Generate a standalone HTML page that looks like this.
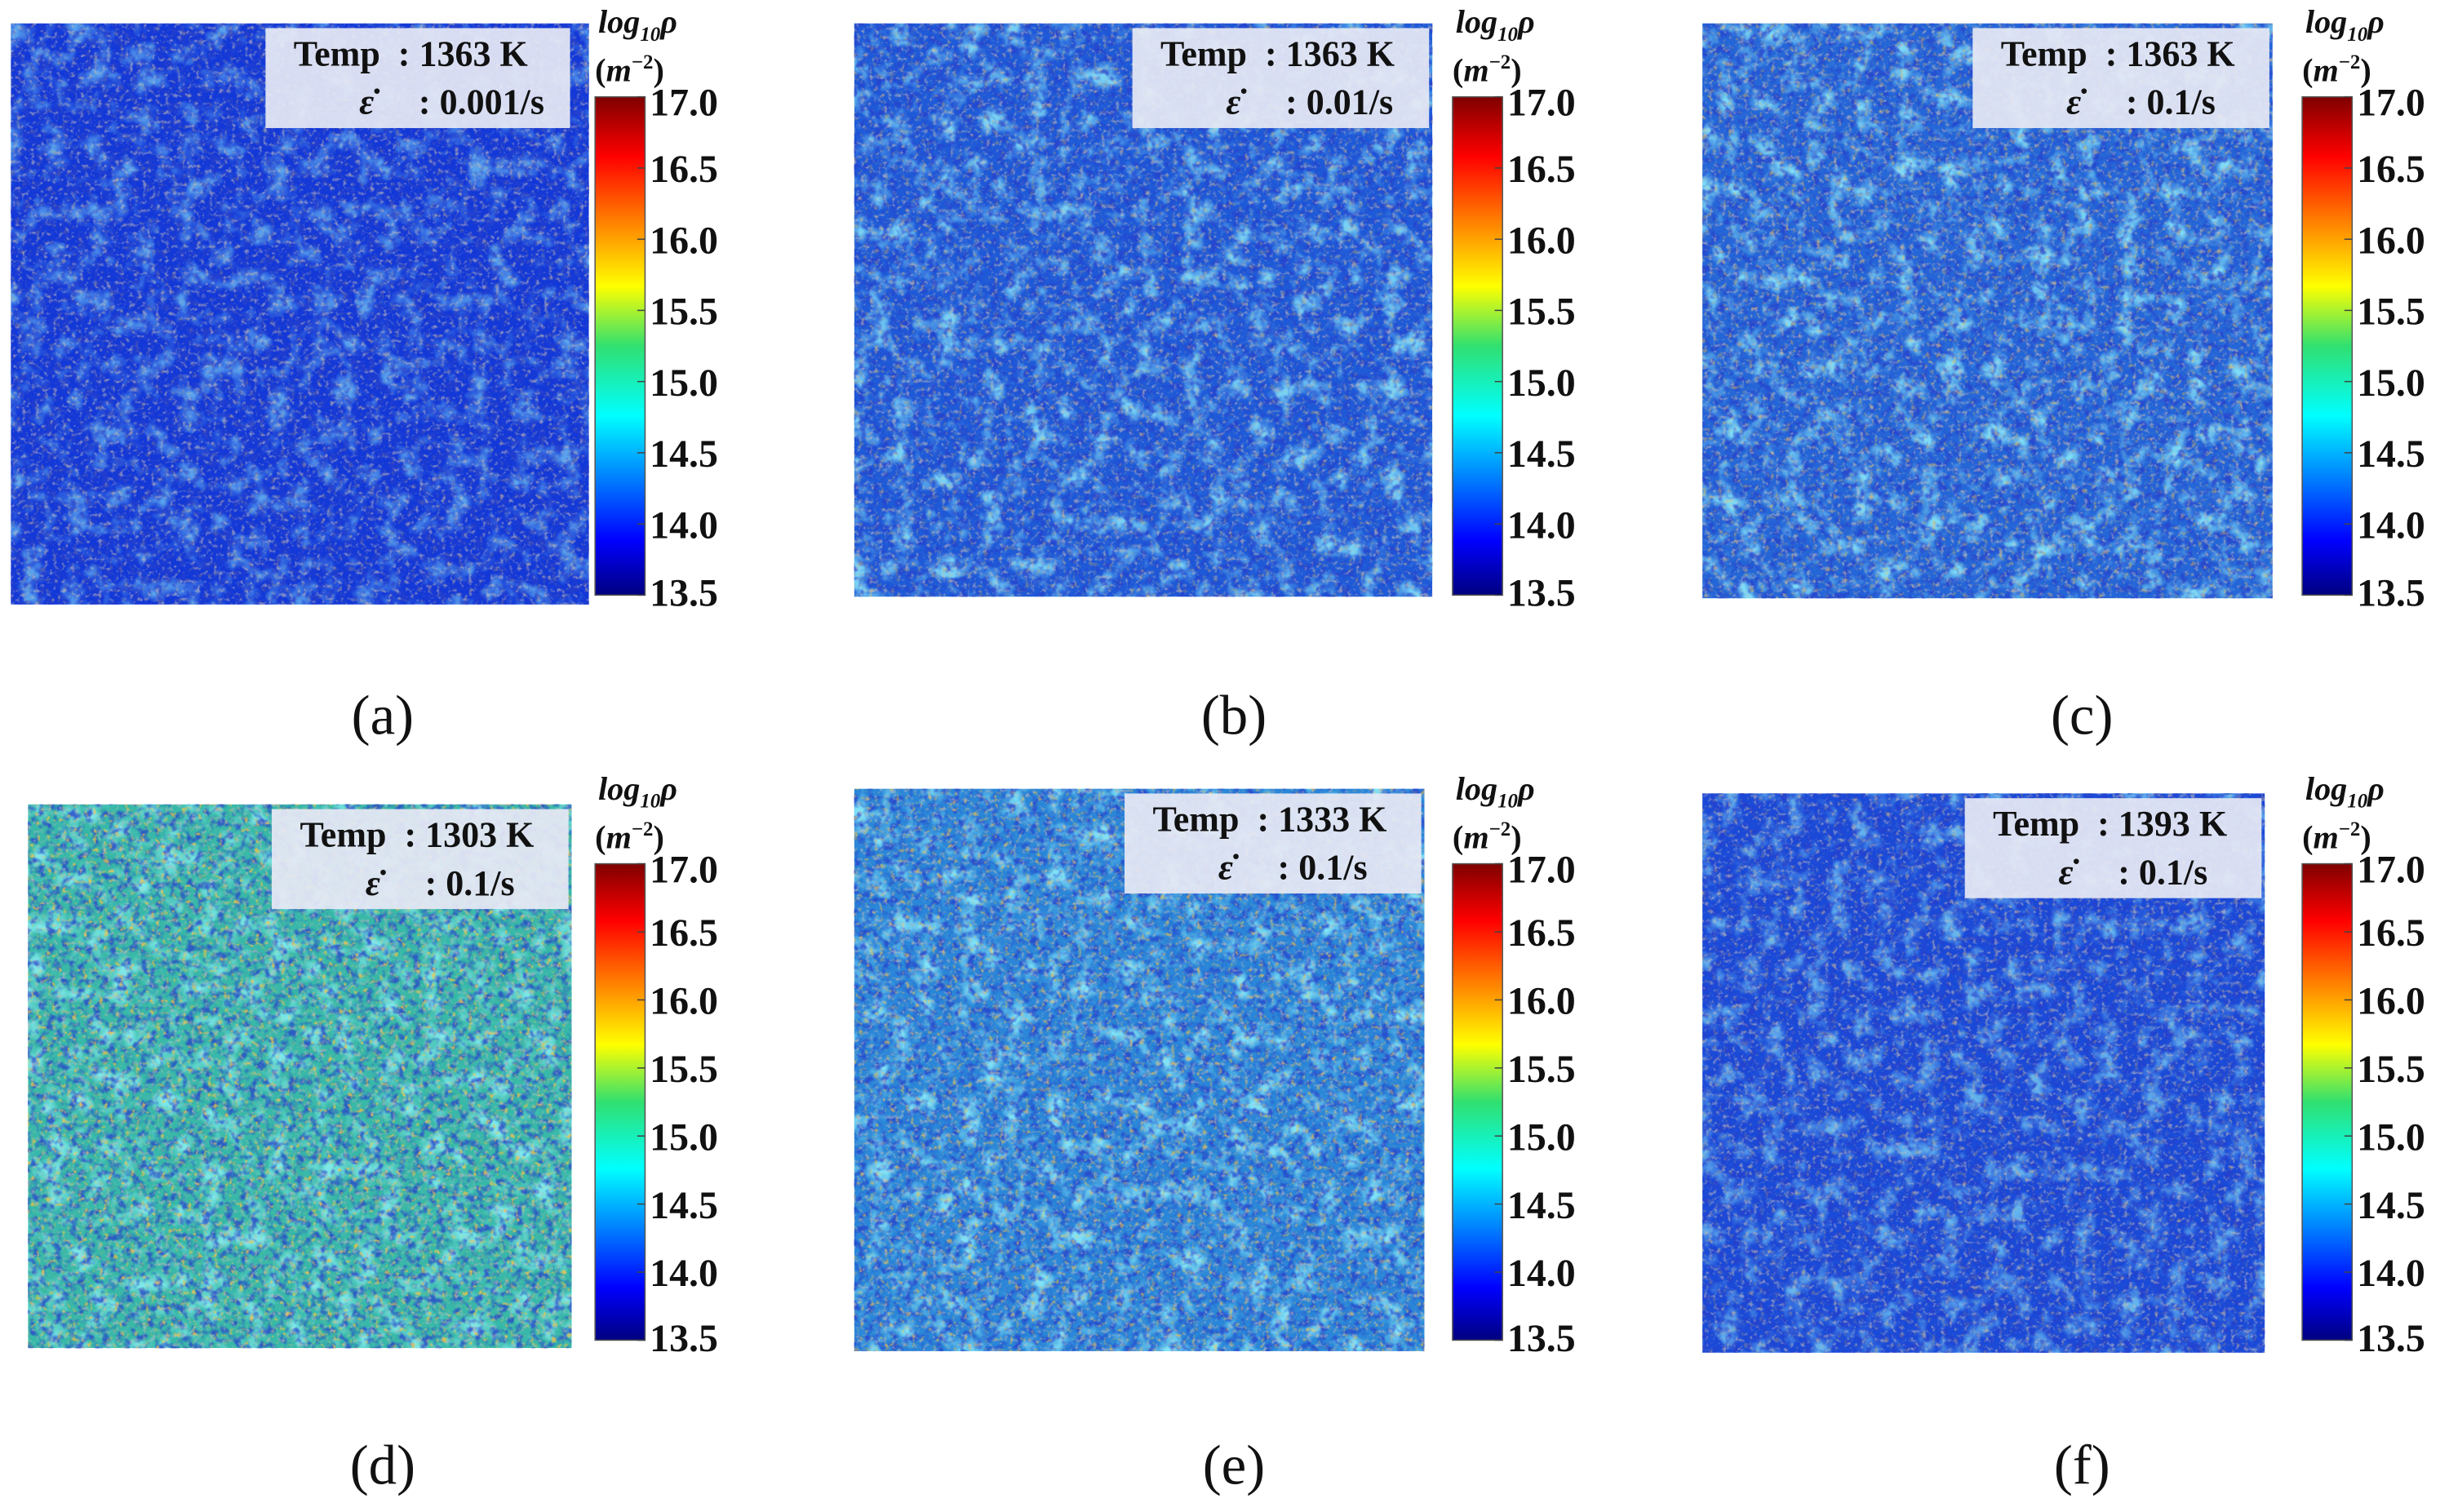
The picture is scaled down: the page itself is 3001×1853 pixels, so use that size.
<!DOCTYPE html>
<html><head><meta charset="utf-8"><style>
html,body{margin:0;padding:0;background:#fff;width:3001px;height:1853px;overflow:hidden}
svg{display:block}
text{font-family:"Liberation Serif",serif;white-space:pre}
</style></head><body>
<svg id="fig" width="3001" height="1853" viewBox="0 0 1568 968" preserveAspectRatio="none" xmlns="http://www.w3.org/2000/svg">
<defs>
<linearGradient id="jet" x1="0" y1="1" x2="0" y2="0">
<stop offset="0" stop-color="#00007f"/><stop offset="0.11" stop-color="#0000ff"/>
<stop offset="0.36" stop-color="#00ffff"/><stop offset="0.5" stop-color="#30e070"/>
<stop offset="0.62" stop-color="#ffff00"/><stop offset="0.88" stop-color="#ff0000"/>
<stop offset="1" stop-color="#7f0000"/></linearGradient>
<filter id="n1" x="0" y="0" width="1" height="1"><feTurbulence type="fractalNoise" baseFrequency="0.07" numOctaves="3" seed="3"/><feColorMatrix type="matrix" values="0 0 0 0 0.3  0 0 0 0 0.95  0 0 0 0 1  3 0 0 0 -1.4"/></filter>
<filter id="n2" x="0" y="0" width="1" height="1"><feTurbulence type="fractalNoise" baseFrequency="0.2" numOctaves="2" seed="7"/><feColorMatrix type="matrix" values="0 0 0 0 0.02  0 0 0 0 0.05  0 0 0 0 0.6  3.5 0 0 0 -1.6"/></filter>
<filter id="n3" x="0" y="0" width="1" height="1"><feTurbulence type="fractalNoise" baseFrequency="0.35" numOctaves="2" seed="11"/><feColorMatrix type="matrix" values="0 0 0 0 0.55  0 0 0 0 0.5  0 0 0 0 0.5  4 0 0 0 -2.2"/></filter>
<filter id="n4" x="0" y="0" width="1" height="1"><feTurbulence type="fractalNoise" baseFrequency="0.3" numOctaves="2" seed="19"/><feColorMatrix type="matrix" values="0 0 0 0 1  0 0 0 0 0.55  0 0 0 0 0.05  5 0 0 0 -3"/></filter>
</defs>
<g id="root"></g>
</svg>
<script>
const panelLabels=['(a)','(b)','(c)','(d)','(e)','(f)'];
const temps=['1363 K','1363 K','1363 K','1303 K','1333 K','1393 K'];
const rates=['0.001/s','0.01/s','0.1/s','0.1/s','0.1/s','0.1/s'];
const baseColors=['#1238d8','#1e5ad8','#2466d8','#38b8a8','#2a86d8','#1a4ad8'];
const lightOpacity=[0.55,0.75,0.8,0.75,0.8,0.6];
const warmOpacity=[0.2,0.3,0.4,0.7,0.55,0.25];
const cbTicks=[17.0,16.5,16.0,15.5,15.0,14.5,14.0,13.5];
const cbMin=13.5, cbMax=17.0;
const maps=[[7,15,377,387],[547,15,917,382],[1090,15,1455,383],[18,515,366,863],[547,505,912,865],[1090,508,1450,866]];
const cbs=[[381,62,381],[930,62,381],[1474,62,381],[381,553,858],[930,553,858],[1474,553,858]];
const labelX=[245,790,1333,245,790,1333];
const labelY=[458,458,458,938,938,938];
const NS='http://www.w3.org/2000/svg';
const root=document.getElementById('root');
function el(t,a,p){const e=document.createElementNS(NS,t);for(const k in a)e.setAttribute(k,a[k]);(p||root).appendChild(e);return e;}
for(let i=0;i<6;i++){
  const [x0,y0,x1,y1]=maps[i];const w=x1-x0,h=y1-y0;
  const g=el('g',{});
  
  
  const m=el('rect',{x:x0,y:y0,width:w,height:h,fill:baseColors[i]},g);
  
  
  el('rect',{x:x0,y:y0,width:w,height:h,filter:'url(#n1)',opacity:lightOpacity[i]},g);
  el('rect',{x:x0,y:y0,width:w,height:h,filter:'url(#n2)',opacity:0.75},g);
  el('rect',{x:x0,y:y0,width:w,height:h,filter:'url(#n3)',opacity:0.6},g);
  el('rect',{x:x0,y:y0,width:w,height:h,filter:'url(#n4)',opacity:warmOpacity[i]},g);
  const bx=x1-(i===0?207:192),by=y0+3;
  const box=el('rect',{x:bx,y:by,width:(i===0?195:190),height:64,fill:'#e6e8f4',opacity:0.93},g);
  
  
  const t1=el('text',{x:bx+18,y:by+24,'font-size':23,'font-weight':'bold',fill:'#111'},g);
  t1.textContent='Temp  : '+temps[i];
  
  
  const t2a=el('text',{x:bx+60,y:by+55,'font-size':23,'font-weight':'bold','font-style':'italic',fill:'#111'},g);
  t2a.textContent='ε̇';
  
  
  const t2=el('text',{x:bx+98,y:by+55,'font-size':23,'font-weight':'bold',fill:'#111'},g);
  t2.textContent=': '+rates[i];
  
  
  const [cx,ct,cb]=cbs[i];const cw=32;
  const ys=v=>cb-(v-cbMin)/(cbMax-cbMin)*(cb-ct);
  const bar=el('rect',{x:cx,y:ct,width:cw,height:cb-ct,fill:'url(#jet)',stroke:'#555','stroke-width':0.8},g);
  
  
  const tt=el('text',{x:cx+2,y:ct-41,'font-size':21,'font-style':'italic','font-weight':'bold',fill:'#111'},g);
  tt.innerHTML='log<tspan font-size="13" dy="5">10</tspan><tspan dy="-5">ρ</tspan>';
  
  
  const tu=el('text',{x:cx+0,y:ct-10,'font-size':21,'font-weight':'bold',fill:'#111'},g);
  tu.innerHTML='(<tspan font-style="italic">m</tspan><tspan font-size="13" dy="-8">−2</tspan><tspan dy="8">)</tspan>';
  
  
  cbTicks.forEach(v=>{
    const y=ys(v);
    el('line',{x1:cx+cw-5,x2:cx+cw,y1:y,y2:y,stroke:'#444','stroke-width':0.8},g);
    const lt=el('text',{x:cx+cw+3,y:y+9+(v===cbMax?3:0)-(v===cbMin?2:0),'font-size':25,'font-weight':'bold',fill:'#111'},g);
    lt.textContent=v.toFixed(1);
    
    
  });
  const pl=el('text',{x:labelX[i],y:labelY[i]+12,'font-size':36,'text-anchor':'middle',fill:'#111'},g);
  pl.textContent=panelLabels[i];
  
  
}
</script>
</body></html>
